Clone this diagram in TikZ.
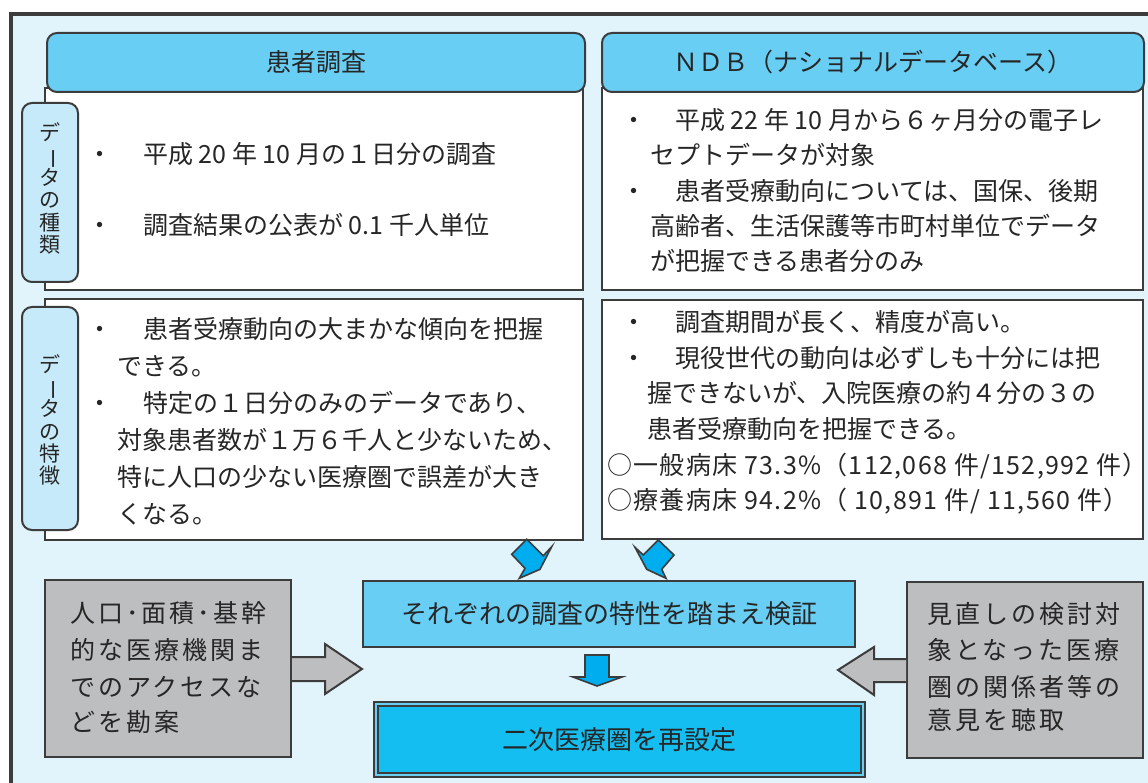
\documentclass[tikz,border=0pt]{standalone}
\usepackage{fontspec}
\setmainfont{Noto Sans CJK JP}
\newfontfamily\jpsp[LetterSpace=12]{Noto Sans CJK JP}
\newfontfamily\jpnum[LetterSpace=5.3]{Noto Sans CJK JP}
\definecolor{bgc}{HTML}{E1F3FB}
\definecolor{hdrc}{HTML}{68CEF4}
\definecolor{tabc}{HTML}{C6EAF9}
\definecolor{finc}{HTML}{14BEF0}
\definecolor{arc}{HTML}{00ADEF}
\definecolor{grayc}{HTML}{BDBEC0}
\definecolor{bdc}{HTML}{3C3C3C}
\definecolor{txtc}{HTML}{262626}
\newcommand\fsz[1]{\fontsize{#1}{#1}\selectfont}
\newcommand\vbar{\smash{\rotatebox[origin=c]{-90}{ー}}}
\newcommand\bulL[1]{\makebox[0pt]{・}\hspace*{43pt}#1}
\newcommand\bulR[1]{\makebox[0pt]{・}\hspace*{41pt}#1}
\tikzset{
  bd/.style={draw=bdc, line width=2pt},
  hdr/.style={bd, fill=hdrc, rounded corners=10pt, inner sep=0pt, text=txtc, font=\fsz{25}},
  wbox/.style={bd, fill=white, inner sep=0pt},
  tabbox/.style={bd, fill=tabc, rounded corners=10pt, inner sep=0pt},
  vtxt/.style={inner sep=0pt, align=center, text=txtc, font=\fontsize{21}{22.3}\selectfont},
  ln/.style={anchor=base west, inner sep=0pt, text=txtc, font=\fsz{25}},
  nln/.style={anchor=base west, inner sep=0pt, text=txtc, font=\jpnum\fsz{25}},
  gln/.style={anchor=base west, inner sep=0pt, text=txtc, font=\jpsp\fsz{25}},
  gbox/.style={bd, fill=grayc, inner sep=0pt},
  garrow/.style={fill=grayc, draw=bdc, line width=2pt, line join=miter},
  sarrow/.style={fill=arc, draw=bdc, line width=1.6pt, line join=miter},
}
\begin{document}
\begin{tikzpicture}[x=1pt,y=-1pt]
\useasboundingbox (0,0) rectangle (1148,783);
\fill[white] (0,0) rectangle (1148,783);
\fill[bgc] (11,14) rectangle (1150,785);
\draw[bdc, line width=3.5pt] (11,785) -- (11,14) -- (1150,14);

% left column
\node[wbox, minimum width=538pt, minimum height=202pt] (w1) at (314,189) {};
\node[hdr, minimum width=538pt, minimum height=59pt] (h1) at (316,62.5) {患者調査};
\node[tabbox, minimum width=56pt, minimum height=179pt] (t1) at (50,192.5) {};
\node[vtxt] (t1t) at (50,188.5) {デ\\\vbar\\タ\\の\\種\\類};
\node[ln] (a1) at (100,163.5) {\bulL{平成 20 年 10 月の１日分の調査}};
\node[ln] (a2) at (100,234.5) {\bulL{調査結果の公表が 0.1 千人単位}};

\node[wbox, minimum width=538pt, minimum height=241pt] (w2) at (314,419.5) {};
\node[tabbox, minimum width=56pt, minimum height=223pt] (t2) at (50,418.5) {};
\node[vtxt] (t2t) at (50,420) {デ\\\vbar\\タ\\の\\特\\徴};
\node[ln] (b1) at (100,338.5) {\bulL{患者受療動向の大まかな傾向を把握}};
\node[ln] (b2) at (117,375.5) {できる。};
\node[ln] (b3) at (100,412.5) {\bulL{特定の１日分のみのデータであり、}};
\node[ln] (b4) at (117,449.5) {対象患者数が１万６千人と少ないため、};
\node[ln] (b5) at (117,486.5) {特に人口の少ない医療圏で誤差が大き};
\node[ln] (b6) at (117,523.5) {くなる。};

% right column
\node[wbox, minimum width=541pt, minimum height=202pt] (w3) at (872.5,189) {};
\node[hdr, minimum width=542pt, minimum height=59pt] (h2) at (873,62.5) {ＮＤＢ（ナショナルデータベース）};
\node[ln] (c1) at (634,129.5) {\bulR{平成 22 年 10 月から６ヶ月分の電子レ}};
\node[ln] (c2) at (650,164.5) {セプトデータが対象};
\node[ln] (c3) at (634,200.5) {\bulR{患者受療動向については、国保、後期}};
\node[ln] (c4) at (650,235.5) {高齢者、生活保護等市町村単位でデータ};
\node[ln] (c5) at (650,270.5) {が把握できる患者分のみ};

\node[wbox, minimum width=541pt, minimum height=239pt] (w4) at (872.5,419.5) {};
\node[ln] (d1) at (634,331.5) {\bulR{調査期間が長く、精度が高い。}};
\node[ln] (d2) at (634,367) {\bulR{現役世代の動向は必ずしも十分には把}};
\node[ln] (d3) at (647,402.5) {握できないが、入院医療の約４分の３の};
\node[ln] (d4) at (647,438) {患者受療動向を把握できる。};
\node[nln] (d5) at (607,474) {○一般病床 73.3\%（112,068 件/152,992 件）};
\node[nln] (d6) at (607,509.5) {○療養病床 94.2\%（ 10,891 件/ 11,560 件）};

% lower part
\node[bd, fill=hdrc, inner sep=0pt, minimum width=492pt, minimum height=66pt, text=txtc, font=\fsz{26}] (mid) at (609,614) {それぞれの調査の特性を踏まえ検証};
\node[draw=bdc, line width=1.6pt, double=hdrc, double distance=2.5pt, fill=finc, inner sep=0pt, minimum width=487pt, minimum height=71pt, text=txtc, font=\fsz{26}] (fin) at (619.5,739.5) {二次医療圏を再設定};

\node[gbox, minimum width=246pt, minimum height=177pt] (gl) at (168,668.5) {};
\node[gln] (e1) at (70,622.5) {人口･面積･基幹};
\node[gln] (e2) at (70,659.5) {的な医療機関ま};
\node[gln] (e3) at (70,696.5) {でのアクセスな};
\node[gln] (e4) at (70,731.5) {どを勘案};

\node[gbox, minimum width=236pt, minimum height=176pt] (gr) at (1025,670) {};
\node[gln] (f1) at (927,623.5) {見直しの検討対};
\node[gln] (f2) at (927,659.5) {象となった医療};
\node[gln] (f3) at (927,696.5) {圏の関係者等の};
\node[gln] (f4) at (927,729.5) {意見を聴取};

% gray block arrows
\draw[garrow] (292,657) -- (325,657) -- (325,644) -- (362,669) -- (325,694) -- (325,681) -- (292,681);
\draw[garrow] (906,659) -- (874,659) -- (874,647) -- (838,670) -- (874,695) -- (874,682) -- (906,682);

% small diagonal arrows
\draw[sarrow] (526.7,539.3) -- (511.7,554.3) -- (525,568.3) -- (519.3,578.3) -- (540,569.3) -- (551.7,546.7) -- (543.3,555.7) -- cycle;
\draw[sarrow] (658.3,540) -- (674,555) -- (661.7,569.3) -- (666,578.3) -- (646.7,569.3) -- (635,547.3) -- (643.3,555) -- cycle;

% down arrow
\draw[sarrow] (585,655) -- (609,655) -- (609,677) -- (622,677) -- (597,686) -- (573,677) -- (585,677) -- cycle;
\end{tikzpicture}
\end{document}
